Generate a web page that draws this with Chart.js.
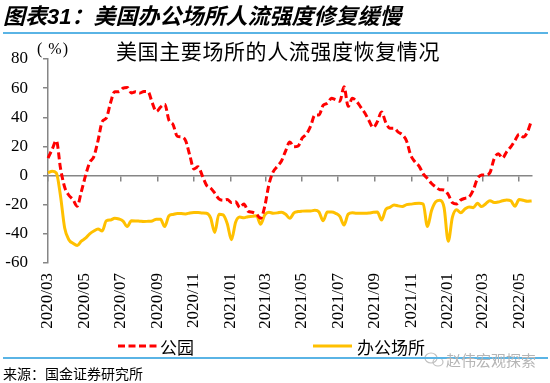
<!DOCTYPE html>
<html><head><meta charset="utf-8">
<script src="https://cdn.jsdelivr.net/npm/chart.js@4/dist/chart.umd.min.js"></script>
<style>
html,body{margin:0;padding:0;background:#fff;}
#wrap{position:relative;width:550px;height:383px;overflow:hidden;font-family:"Noto Sans CJK SC",sans-serif;color:#000;}
#c{position:absolute;left:0;top:0;}
.abs{position:absolute;white-space:nowrap;line-height:1;}
</style></head><body>
<div id="wrap">
<canvas id="c" width="550" height="383"></canvas>
<div class="abs" style="left:3px;top:3px;font-size:22px;font-weight:bold;font-style:italic;">图表<span style="font-family:'Liberation Sans'">31</span>：美国办公场所人流强度修复缓慢</div>
<div class="abs" style="left:3px;top:32px;width:545px;height:2px;background:#5AB4E5;"></div>
<div class="abs" style="left:116px;top:40px;font-size:21px;letter-spacing:0.6px;">美国主要场所的人流强度恢复情况</div>
<div class="abs" style="left:37px;top:41px;font-size:16px;font-family:'Liberation Serif',serif;letter-spacing:1px;">( %)</div>
<svg class="abs" style="left:0;top:0" width="550" height="383">
  <line x1="118" y1="346" x2="157" y2="346" stroke="#FF0000" stroke-width="3" stroke-dasharray="7 3.5"/>
  <line x1="313" y1="346" x2="352" y2="346" stroke="#FFC000" stroke-width="3"/>
  <g fill="none" stroke="#c0c0c0" stroke-width="1.2">
    <ellipse cx="431" cy="358" rx="6" ry="5"/>
    <ellipse cx="438" cy="362" rx="5" ry="4"/>
  </g>
</svg>
<div class="abs" style="left:160px;top:338px;font-size:17px;">公园</div>
<div class="abs" style="left:357px;top:338px;font-size:17px;">办公场所</div>
<div class="abs" style="left:3px;top:357px;width:545px;height:2px;background:#5AB4E5;"></div>
<div class="abs" style="left:446px;top:352px;font-size:15px;color:#b5b5b5;">赵伟宏观探索</div>
<div class="abs" style="left:3px;top:366px;font-size:14px;">来源：国金证券研究所</div>
</div>
<script>
// Weekly categories starting 2020-03-01
const startDate = Date.UTC(2020, 2, 1);
const weeks = [];
for (let i = 0; i < 117; i++) {
  const d = new Date(startDate + i * 7 * 86400000);
  weeks.push(d.getUTCFullYear() + '-' + String(d.getUTCMonth() + 1).padStart(2, '0') + '-' + String(d.getUTCDate()).padStart(2, '0'));
}
const parkValues = [
  12,18,24,5,-8,-13.5,-16.5,-21,-11,0,
  9,13,24,37,39.5,50,57.6,57.6,60,60.5,
  56.7,57.6,56.7,57.7,57.5,50,44,47,49,38,
  35,27,26.5,24,14,4.5,6,0,-6.5,-8.5,
  -12,-16,-17,-16.5,-18.5,-18,-22,-19.5,-24.5,-25.2,
  -26.5,-29.3,-21,-6,2.5,6.3,10,17,23,19.7,
  20.3,25.8,28.5,34,41.5,41.6,48.3,49.6,53,52,
  51,61,47.5,53,51,47,43,37.6,33,37,
  43.7,36.5,32.5,32.5,29.8,28,23.7,14,9.5,6.5,
  1.2,-2,-5.4,-7.8,-9.7,-9.9,-13,-18.6,-19.5,-16.8,
  -15.6,-14.7,-9.9,-2.2,0.4,0.5,2,11.5,15,12,
  16.3,19.7,24,28.4,26.5,30,38
];
const officeValues = [
  2,3,1.8,-14,-36,-44,-46.5,-48,-45,-43,
  -40,-38,-36.7,-38,-31,-30.5,-29.3,-29.8,-31.2,-35,
  -31,-31.1,-31.3,-31.5,-31.4,-31.2,-29.9,-30,-35,-27.6,
  -26.7,-26,-26.1,-26.3,-25.7,-25.4,-25.4,-25.7,-25.9,-29,
  -39,-26.5,-27,-33,-44,-32,-28.5,-29,-28.2,-28,
  -27.5,-33.4,-27,-25.2,-25.8,-25.6,-25.1,-26.5,-29.3,-25.6,
  -24.7,-24.4,-24.3,-24.3,-23.8,-25,-31,-25,-25,-25.9,
  -28,-33.9,-26.5,-25.6,-25.9,-25.9,-25.9,-25.7,-25.2,-25,
  -30.5,-23.3,-21.8,-20.2,-20.8,-21.3,-19.9,-19.6,-19.2,-19,
  -19.5,-35,-24,-18,-17,-22,-45,-28.5,-23.4,-25.5,
  -23,-21.5,-22,-19,-21.3,-19.3,-17.2,-18.5,-18.1,-17.3,
  -16.7,-17.3,-21,-16.5,-17,-17.6,-17.4
];
const tickLabels = ['2020/03','2020/05','2020/07','2020/09','2020/11','2021/01','2021/03','2021/05','2021/07','2021/09','2021/11','2022/01','2022/03','2022/05'];
const tickDays = [0,61,122,184,245,306,365,426,487,549,610,671,730,791];
const lastDay = (weeks.length - 1) * 7;

const axisGray = '#868686';
const serif = '"Liberation Serif", "Times New Roman", serif';

new Chart(document.getElementById('c'), {
  type: 'line',
  data: {
    labels: weeks,
    datasets: [
      { label: '公园', data: parkValues, borderColor: '#FF0000', borderWidth: 3, borderDash: [7, 3.5], pointRadius: 0, cubicInterpolationMode: 'monotone', fill: false },
      { label: '办公场所', data: officeValues, borderColor: '#FFC000', borderWidth: 3, pointRadius: 0, cubicInterpolationMode: 'monotone', fill: false }
    ]
  },
  options: {
    responsive: false,
    devicePixelRatio: 1,
    animation: false,
    events: [],
    layout: { padding: { left: 0, top: 59, right: 12, bottom: 0 } },
    plugins: { legend: { display: false }, tooltip: { enabled: false }, title: { display: false } },
    scales: {
      x: { type: 'category', display: false, offset: false },
      xl: {
        type: 'linear', position: 'bottom', min: 0, max: lastDay,
        afterBuildTicks: s => { s.ticks = tickDays.map(v => ({ value: v })); },
        ticks: { autoSkip: false, minRotation: 90, maxRotation: 90, padding: 10, color: '#000',
          font: { family: serif, size: 17 }, callback: (v, i) => tickLabels[i] },
        grid: { display: false, drawTicks: false },
        border: { display: false },
        afterFit: s => { s.height = 120; }
      },
      xz: {
        type: 'linear', position: { y: 0 }, min: 0, max: lastDay,
        afterBuildTicks: s => { s.ticks = tickDays.map(v => ({ value: v })); },
        ticks: { display: false },
        grid: { drawOnChartArea: false, drawTicks: true, tickLength: 5, color: axisGray, lineWidth: 1.5 },
        border: { display: true, color: axisGray, width: 1.5 }
      },
      y: {
        min: -60, max: 80,
        ticks: { stepSize: 20, color: '#000', padding: 15, font: { family: serif, size: 17 } },
        grid: { drawOnChartArea: false, drawTicks: true, tickLength: 5, color: axisGray, lineWidth: 1.5 },
        border: { color: axisGray, width: 1.5 },
        afterFit: s => { s.width = 48; }
      }
    }
  }
});
</script>
</body></html>
